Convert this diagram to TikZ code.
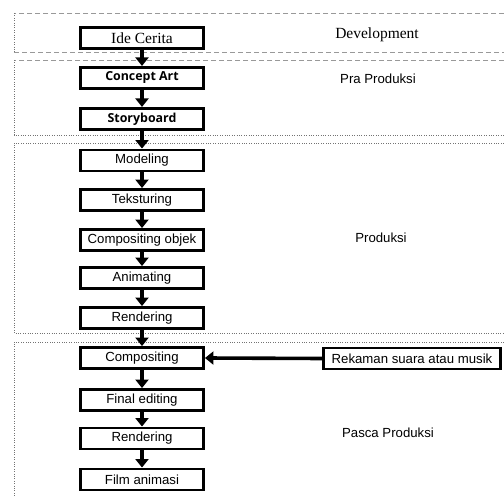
\documentclass[tikz,border=0pt]{standalone}
\usepackage{fontspec}
\setmainfont{Liberation Serif}
\newfontfamily\arialf{Liberation Sans}
\newfontfamily\boldf{Open Sans}
\usetikzlibrary{arrows.meta}
\begin{document}
\begin{tikzpicture}[x=1pt,y=-1pt,
  proc/.style={draw, line width=2.9pt, minimum width=123pt, minimum height=21pt, inner sep=0pt,
    font=\arialf\fontsize{13.2}{15}\selectfont},
  serifbox/.style={proc, font=\fontsize{15.5}{17}\selectfont},
  boldbox/.style={proc, line width=3.1pt, font=\boldf\bfseries\fontsize{12.4}{14}\selectfont},
  flow/.style={line width=3.6pt, -{Triangle[width=13pt,length=8.5pt]}},
  phase/.style={font=\arialf\fontsize{13.2}{15}\selectfont},
  regdash/.style={draw=black!40, line width=0.7pt, dash pattern=on 5pt off 3pt},
  regdot/.style={draw=black!55, line width=0.8pt, dash pattern=on 0.8pt off 1.6pt}]
\useasboundingbox (0,0) rectangle (504,497);
% regions
\draw[regdash] (504,13) -- (14,13);
\draw[regdot] (14,13) -- (14,52);
\draw[regdash] (14,52) -- (504,52);
\draw[regdash] (504,60) -- (14,60);
\draw[regdot] (14,60) -- (14,135) -- (504,135);
\draw[regdot] (504,143) -- (14,143) -- (14,333) -- (504,333);
\draw[regdot] (504,342) -- (14,342) -- (14,497);
% phase labels
\node[font=\fontsize{15.5}{17}\selectfont] (dev) at (377,35) {Development};
\node[phase] (pra) at (378,79) {Pra Produksi};
\node[phase] (prod) at (381,238) {Produksi};
\node[phase] (pasca) at (388,433) {Pasca Produksi};
% boxes
\node[serifbox] (ide) at (142,38) {Ide Cerita};
\node[boldbox] (concept) at (142,78) {Concept Art};
\node[boldbox] (story) at (142,119) {Storyboard};
\node[proc] (model) at (142,160.5) {Modeling};
\node[proc] (tekst) at (142,200) {Teksturing};
\node[proc] (compobj) at (142,240) {Compositing objek};
\node[proc] (anim) at (142,278) {Animating};
\node[proc] (rend1) at (142,318) {Rendering};
\node[proc] (comp) at (142,358) {Compositing};
\node[proc] (final) at (142,400) {Final editing};
\node[proc] (rend2) at (142,438.5) {Rendering};
\node[proc] (film) at (142,479.5) {Film animasi};
\node[proc, minimum width=177pt] (rekam) at (412,358.5) {Rekaman suara atau musik};
% arrows
\draw[flow] (ide) -- (concept);
\draw[flow] (concept) -- (story);
\draw[flow] (story) -- (model);
\draw[flow] (model) -- (tekst);
\draw[flow] (tekst) -- (compobj);
\draw[flow] (compobj) -- (anim);
\draw[flow] (anim) -- (rend1);
\draw[flow] (rend1) -- (comp);
\draw[flow] (comp) -- (final);
\draw[flow] (final) -- (rend2);
\draw[flow] (rend2) -- (film);
\draw[flow] (rekam.west) -- (comp.east);
\end{tikzpicture}
\end{document}
